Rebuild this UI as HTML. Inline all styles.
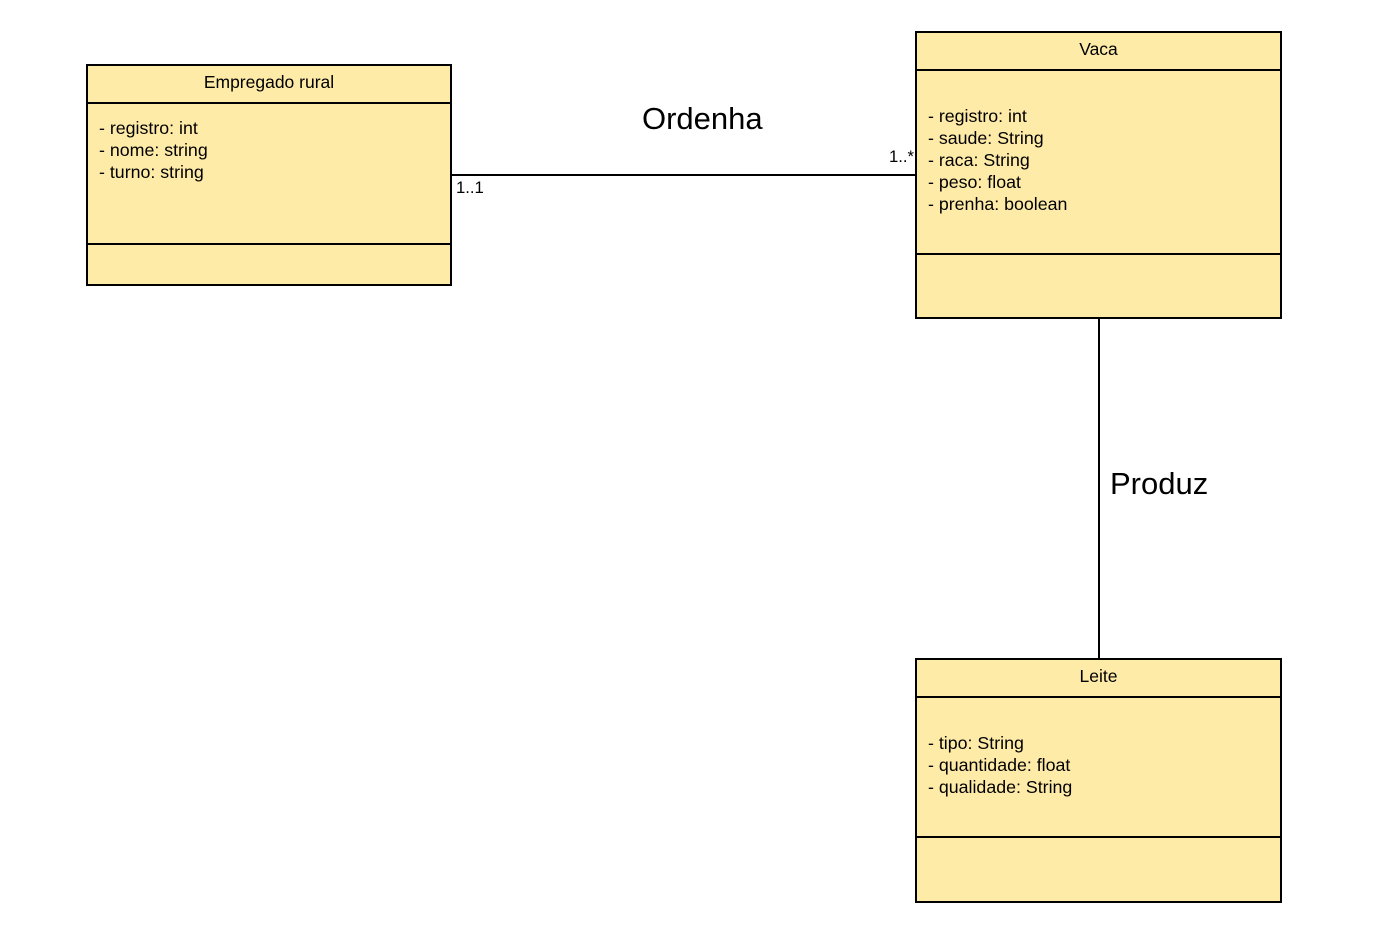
<!DOCTYPE html>
<html><head><meta charset="utf-8"><style>
body{margin:0;width:1388px;height:929px;background:#fff;position:relative;font-family:"Liberation Sans",sans-serif;overflow:hidden}
.b{position:absolute;background:#FFEBA8;border:2px solid #000;box-sizing:border-box}
.l{position:absolute;left:0;right:0;height:0;border-top:2px solid #000}
.h{position:absolute;left:0;right:0;text-align:center;font-size:17.5px}
.a{position:absolute;left:11px;font-size:17.8px;line-height:22px;white-space:pre}
.t{position:absolute;white-space:nowrap}
</style></head><body>
<div class="b" style="left:86px;top:64px;width:366px;height:222px">
<div class="h" style="top:6px">Empregado rural</div>
<div class="l" style="top:36px"></div>
<div class="a" style="top:51px">- registro: int
- nome: string
- turno: string</div>
<div class="l" style="top:177px"></div>
</div>
<div class="b" style="left:915px;top:31px;width:367px;height:288px">
<div class="h" style="top:6px">Vaca</div>
<div class="l" style="top:36px"></div>
<div class="a" style="top:72px">- registro: int
- saude: String
- raca: String
- peso: float
- prenha: boolean</div>
<div class="l" style="top:220px"></div>
</div>
<div class="b" style="left:915px;top:658px;width:367px;height:245px">
<div class="h" style="top:6px">Leite</div>
<div class="l" style="top:36px"></div>
<div class="a" style="top:72px">- tipo: String
- quantidade: float
- qualidade: String</div>
<div class="l" style="top:176px"></div>
</div>
<div style="position:absolute;left:451px;top:174px;width:465px;border-top:2px solid #000"></div>
<div style="position:absolute;left:1098px;top:318px;height:341px;border-left:2px solid #000"></div>
<div class="t" style="left:642px;top:101px;font-size:31px">Ordenha</div>
<div class="t" style="left:1110px;top:466px;font-size:31px">Produz</div>
<div class="t" style="left:456px;top:178px;font-size:16.7px">1..1</div>
<div class="t" style="left:889px;top:147px;font-size:16.7px">1..*</div>
</body></html>
